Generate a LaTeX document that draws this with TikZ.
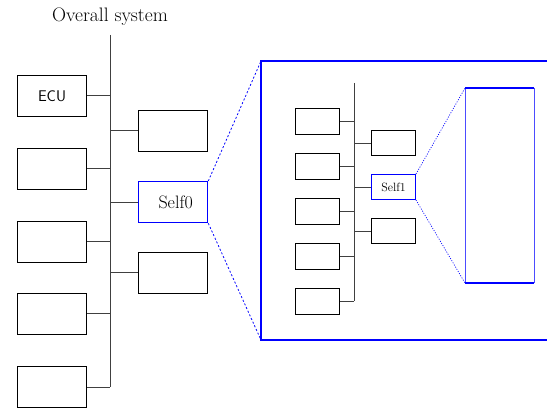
\documentclass[tikz,border=0pt]{standalone}
\usepackage{fontspec}
\begin{document}
\begin{tikzpicture}[x=1pt,y=-1pt,
  box/.style={draw=black,line width=1pt,minimum width=#1,inner sep=0pt,anchor=north west},
  lbox/.style={box,minimum width=69pt,minimum height=41pt},
  sbox/.style={box,minimum width=44pt,minimum height=26pt},
  wire/.style={draw=black!75,line width=1pt},
  zoomline/.style={draw=blue,line width=0.8pt,dash pattern=on 2pt off 2pt}
]
\useasboundingbox (0,0) rectangle (547,409);
% title
\node[font=\fontsize{19.5}{22}\selectfont] (title) at (110,17) {Overall system};
% main bus
\coordinate (bt) at (110,35);
\coordinate (bb) at (110,387);
\draw[wire] (bt) -- (bb);
% left boxes
\node[lbox,font=\sffamily\fontsize{15.5}{17}\selectfont] (l1) at (17,75) {ECU};
\node[lbox] (l2) at (17,148) {};
\node[lbox] (l3) at (17,221) {};
\node[lbox] (l4) at (17,293) {};
\node[lbox] (l5) at (17,366) {};
\foreach \n in {l1,l2,l3,l4,l5} \draw[wire] (\n.east) -- (\n.east -| bt);
% right boxes
\node[lbox] (r1) at (138,110) {};
\node[lbox,draw=blue,line width=1.3pt,font=\fontsize{18}{20}\selectfont] (self0) at (138,181) {\hspace*{5pt}Self0};
\node[lbox] (r3) at (138,252) {};
\foreach \n in {r1,self0,r3} \draw[wire] (\n.west) -- (\n.west -| bt);
% big zoom frame
\coordinate (ftl) at (261,61);
\coordinate (fbl) at (261,340);
\coordinate (ftr) at (550,61);
\coordinate (fbr) at (550,340);
\draw[blue,line width=1.4pt] (ftr) -- (ftl) -- (fbl) -- (fbr);
\draw[zoomline] (self0.north east) -- (ftl);
\draw[zoomline] (self0.south east) -- (fbl);
% inner bus
\coordinate (it) at (354,83);
\coordinate (ib) at (354,301);
\draw[wire,line width=0.9pt] (it) -- (ib);
\node[sbox] (a1) at (295,108) {};
\node[sbox] (a2) at (295,153) {};
\node[sbox] (a3) at (295,198) {};
\node[sbox] (a4) at (295,243) {};
\node[sbox] (a5) at (295,288) {};
\foreach \n in {a1,a2,a3,a4,a5} \draw[wire,line width=0.9pt] (\n.east) -- (\n.east -| it);
\node[sbox,minimum height=25pt] (b1) at (371,130) {};
\node[sbox,minimum height=25pt,draw=blue,font=\fontsize{12}{14}\selectfont] (self1) at (371,174) {Self1};
\node[sbox,minimum height=25pt] (b3) at (371,218) {};
\foreach \n in {b1,self1,b3} \draw[wire,line width=0.9pt] (\n.west) -- (\n.west -| it);
% inner zoom frame
\coordinate (gtl) at (465,88);
\coordinate (gtr) at (534,88);
\coordinate (gbl) at (465,283);
\coordinate (gbr) at (534,283);
\draw[blue!70,line width=0.6pt] (gtl) -- (gbl);
\draw[blue!70,line width=0.6pt] (gtr) -- (gbr);
\draw[blue,line width=1.8pt] (gtl) -- (gtr);
\draw[blue,line width=1.8pt] (gbl) -- (gbr);
\draw[blue,line width=0.7pt,dash pattern=on 1pt off 1.5pt] (self1.north east) -- (gtl);
\draw[blue,line width=0.7pt,dash pattern=on 1pt off 1.5pt] (self1.south east) -- (gbl);
\end{tikzpicture}
\end{document}
